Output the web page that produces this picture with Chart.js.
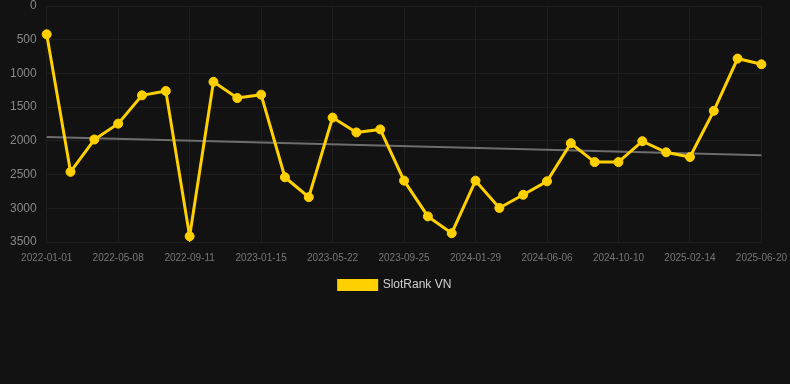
<!DOCTYPE html>
<html lang="en">
<head>
  <meta charset="UTF-8" />
  <title>SlotRank VN</title>
  <script src="https://cdn.jsdelivr.net/npm/chart.js@4.4.0/dist/chart.umd.min.js"></script>
  <style>
    html, body {
      margin: 0;
      padding: 0;
      background-color: #121212;
    }
    .box {
      width: 790px;
      height: 384px;
    }
  </style>
</head>
<body>
  <div class="box">
    <canvas id="rankChart" width="790" height="384"></canvas>
  </div>

  <script>
    // dates on the x axis (every third one is shown)
    const dates = [
      '2022-01-01', '2022-02-12', '2022-03-26', '2022-05-08', '2022-06-19', '2022-07-31',
      '2022-09-11', '2022-10-23', '2022-12-04', '2023-01-15', '2023-02-26', '2023-04-09',
      '2023-05-22', '2023-07-03', '2023-08-14', '2023-09-25', '2023-11-06', '2023-12-18',
      '2024-01-29', '2024-03-11', '2024-04-24', '2024-06-06', '2024-07-18', '2024-08-29',
      '2024-10-10', '2024-11-21', '2025-01-02', '2025-02-14', '2025-03-28', '2025-05-09',
      '2025-06-20'
    ];

    // rank values
    const ranks = [
      420, 2460, 1980, 1745, 1325, 1260,
      3415, 1125, 1365, 1315, 2540, 2835,
      1655, 1875, 1830, 2590, 3120, 3370,
      2590, 2995, 2800, 2600, 2035, 2315,
      2315, 2005, 2170, 2240, 1555, 780,
      865
    ];

    // trend line ends
    const trendStart = 1942;
    const trendEnd = 2212;

    const trend = dates.map((d, i) => i === 0 ? trendStart : (i === dates.length - 1 ? trendEnd : null));

    const ctx = document.getElementById('rankChart').getContext('2d');
    new Chart(ctx, {
      type: 'line',
      data: {
        labels: dates,
        datasets: [{
          label: 'SlotRank VN',
          data: ranks,
          borderColor: '#ffd000',
          backgroundColor: '#ffd000',
          borderWidth: 3,
          pointRadius: 4.5,
          pointBorderWidth: 1,
          pointHoverRadius: 5,
          tension: 0,
          order: 1
        }, {
          label: 'Trend',
          data: trend,
          borderColor: '#6e6e6e',
          backgroundColor: '#6e6e6e',
          borderWidth: 2,
          pointRadius: 0,
          spanGaps: true,
          order: 2
        }]
      },
      options: {
        responsive: false,
        animation: false,
        layout: {
          padding: { left: 0, right: 0, top: 0, bottom: 83 }
        },
        plugins: {
          legend: {
            position: 'bottom',
            labels: {
              color: '#d0d0d0',
              padding: 12,
              font: { family: 'Liberation Sans, Arial', size: 12 },
              boxWidth: 38,
              boxHeight: 9,
              filter: item => item.text !== 'Trend'
            }
          },
          tooltip: { enabled: false }
        },
        scales: {
          x: {
            grid: {
              tickLength: 7,
              tickColor: 'rgba(0,0,0,0)',
              color: c => c.index % 3 === 0 ? '#1e1e1e' : 'rgba(0,0,0,0)'
            },
            border: { color: '#1e1e1e' },
            ticks: {
              padding: 3,
              color: '#777777',
              font: { family: 'Liberation Sans, Arial', size: 10 },
              maxRotation: 0,
              autoSkip: false,
              callback: function (value, index) {
                return index % 3 === 0 ? this.getLabelForValue(value) : '';
              }
            }
          },
          y: {
            reverse: true,
            min: 0,
            max: 3500,
            afterFit: scale => { scale.width += 10; },
            grid: { tickLength: 10, tickColor: 'rgba(0,0,0,0)', color: '#1e1e1e' },
            border: { color: '#1e1e1e' },
            ticks: {
              stepSize: 500,
              padding: 0,
              color: '#888888',
              font: { family: 'Liberation Sans, Arial', size: 12, lineHeight: 1 },
              callback: v => String(v)
            }
          }
        }
      }
    });
  </script>
</body>
</html>
